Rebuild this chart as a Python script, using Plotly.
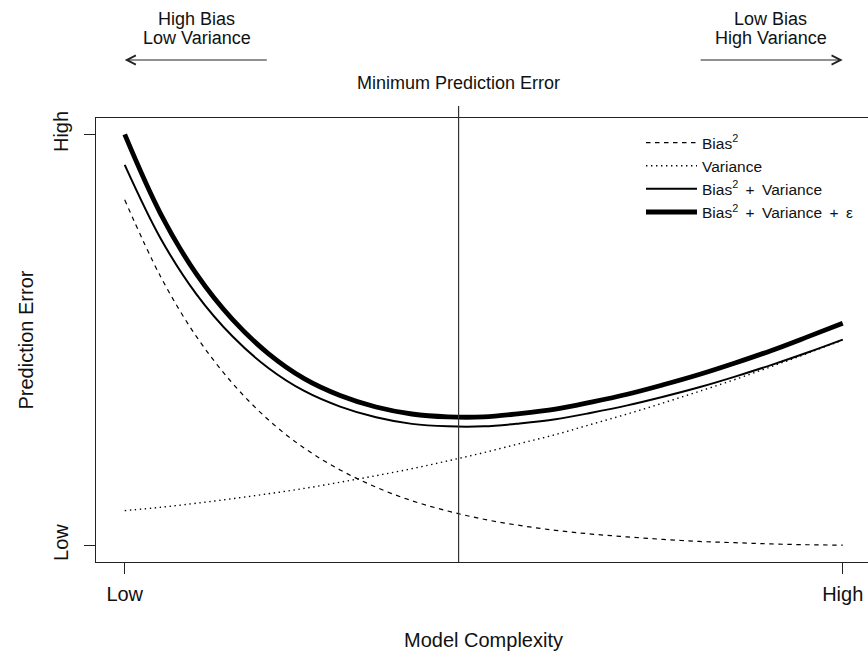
import plotly.graph_objects as go

# ---- data ----
complexity = [0.00, 0.05, 0.10, 0.15, 0.20, 0.25, 0.30, 0.35, 0.40, 0.45, 0.50,
              0.55, 0.60, 0.65, 0.70, 0.75, 0.80, 0.85, 0.90, 0.95, 1.00]
bias_sq = [0.841, 0.654, 0.508, 0.395, 0.306, 0.237, 0.184, 0.142, 0.109, 0.084, 0.064,
           0.049, 0.037, 0.028, 0.021, 0.015, 0.010, 0.007, 0.004, 0.002, 0.001]
variance = [0.085, 0.093, 0.103, 0.114, 0.126, 0.139, 0.154, 0.170, 0.187, 0.206, 0.226,
            0.248, 0.270, 0.295, 0.320, 0.347, 0.375, 0.404, 0.435, 0.467, 0.500]
bias_sq_plus_variance = [0.926, 0.747, 0.611, 0.509, 0.432, 0.376, 0.338, 0.312, 0.296, 0.290, 0.290,
                         0.297, 0.307, 0.323, 0.341, 0.362, 0.385, 0.411, 0.439, 0.469, 0.501]
total_error = [1.000, 0.807, 0.660, 0.550, 0.467, 0.406, 0.365, 0.337, 0.320, 0.313, 0.313,
               0.321, 0.332, 0.349, 0.368, 0.391, 0.416, 0.444, 0.474, 0.507, 0.541]
min_error_complexity = 0.465

x_tick_vals = [0, 1]
x_tick_text = ["Low", "High"]
y_tick_vals = [0, 1]
y_tick_text = ["Low", "High"]

FONT = "Liberation Sans, Arial, sans-serif"
PLUS = "\u2009 + \u2009"

fig = go.Figure()
fig.add_trace(go.Scatter(x=complexity, y=bias_sq, mode="lines", name="Bias<sup>2</sup>",
                         line=dict(color="black", width=1.2, dash="4.5px,4.5px", shape="spline")))
fig.add_trace(go.Scatter(x=complexity, y=variance, mode="lines", name="Variance",
                         line=dict(color="black", width=1.4, dash="1.4px,3.6px", shape="spline")))
fig.add_trace(go.Scatter(x=complexity, y=bias_sq_plus_variance, mode="lines",
                         name="Bias<sup>2</sup>" + PLUS + "Variance",
                         line=dict(color="black", width=2.0, shape="spline")))
fig.add_trace(go.Scatter(x=complexity, y=total_error, mode="lines",
                         name="Bias<sup>2</sup>" + PLUS + "Variance" + PLUS + "ε",
                         line=dict(color="black", width=4.8, shape="spline")))

fig.add_shape(type="line", xref="x", yref="paper",
              x0=min_error_complexity, x1=min_error_complexity, y0=0, y1=1.027,
              line=dict(color="#333333", width=1.2))

ann = []
def txt(text, x, y, xref="x", size=18, angle=0):
    ann.append(dict(text=text, x=x, y=y, xref=xref, yref="paper", showarrow=False,
                    xanchor="center", yanchor="middle", textangle=angle,
                    font=dict(family=FONT, size=size, color="#111111")))

txt("High Bias", 0.1, 1.2236)
txt("Low Variance", 0.1, 1.1795)
txt("Low Bias", 0.9, 1.2236)
txt("High Variance", 0.9, 1.1795)
txt("Minimum Prediction Error", min_error_complexity, 1.0788)
txt("Model Complexity", 0.5, -0.1757, size=20)
txt("Prediction Error", -0.0913, 0.5, xref="paper", size=20, angle=-90)

for head, tail in [(0.0, 0.2), (1.0, 0.8)]:
    ann.append(dict(text="", x=head, y=1.1306, xref="x", yref="paper",
                    ax=tail, axref="x", ay=0, ayref="pixel",
                    showarrow=True, arrowhead=5, arrowsize=1.5, arrowwidth=1.2,
                    arrowcolor="#222222", standoff=0, startstandoff=0))

fig.update_layout(
    width=868, height=654, autosize=False,
    margin=dict(l=96, r=0, t=118, b=92, pad=0),
    paper_bgcolor="white", plot_bgcolor="white",
    font=dict(family=FONT, color="#111111"),
    annotations=ann,
    showlegend=True,
    legend=dict(x=(641 - 96) / 772, y=0.982, xanchor="left", yanchor="top",
                bgcolor="rgba(0,0,0,0)", borderwidth=0,
                font=dict(family=FONT, size=15.5, color="#111111"),
                itemwidth=51, tracegroupgap=0),
    xaxis=dict(range=[-0.04, -0.04 + 772 / 718], showgrid=False, zeroline=False,
               showline=True, mirror=True, linecolor="#222222", linewidth=1,
               ticks="outside", ticklen=11, tickwidth=1, tickcolor="#222222",
               tickvals=x_tick_vals, ticktext=x_tick_text, ticklabelstandoff=3,
               tickfont=dict(family=FONT, size=20, color="#111111")),
    yaxis=dict(range=[-0.04, 1.04], showgrid=False, zeroline=False,
               showline=True, mirror=False, linecolor="#222222", linewidth=1,
               ticks="outside", ticklen=11, tickwidth=1, tickcolor="#222222",
               tickvals=y_tick_vals, ticktext=y_tick_text, tickangle=-90,
               ticklabelstandoff=8,
               tickfont=dict(family=FONT, size=20, color="#111111")),
)

fig.write_html("out.html")
